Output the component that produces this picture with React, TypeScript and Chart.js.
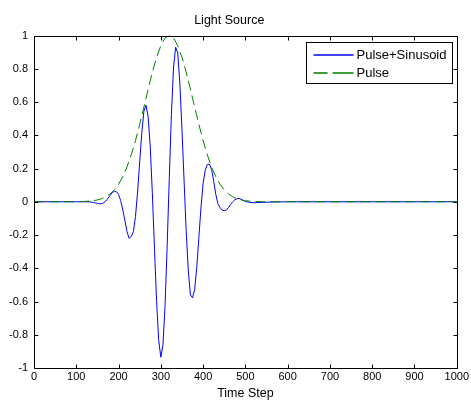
import React, { useEffect, useRef } from "react";
import { Chart, registerables } from "chart.js";

Chart.register(...registerables);

const chartTitle = "Light Source";
const xAxisTitle = "Time Step";
const seriesNames = ["Pulse+Sinusoid", "Pulse"];

const xTicks = [0, 100, 200, 300, 400, 500, 600, 700, 800, 900, 1000];
const yTicks = [-1, -0.8, -0.6, -0.4, -0.2, 0, 0.2, 0.4, 0.6, 0.8, 1];

// Pulse+Sinusoid (blue, solid)
const sinSteps = [
  0, 50, 100, 130, 135, 140, 145, 150, 155, 160, 165, 170, 175, 180, 185, 190, 195,
  200, 205, 210, 215, 220, 225, 230, 235, 240, 245, 250, 255, 260, 265, 270, 275,
  280, 285, 290, 295, 300, 305, 310, 315, 320, 325, 330, 335, 340, 345, 350, 355,
  360, 365, 370, 375, 380, 385, 390, 395, 400, 405, 410, 415, 420, 425, 430, 435,
  440, 445, 450, 455, 460, 465, 470, 475, 480, 485, 490, 495, 500, 510, 520, 540,
  560, 600, 700, 800, 900, 1000,
];
const sinValues = [
  0, 0, 0, 0, -0.002, -0.004, -0.007, -0.01, -0.012, -0.011, -0.006, 0.004, 0.02, 0.038, 0.055, 0.062, 0.06,
  0.044, 0.007, -0.048, -0.113, -0.18, -0.22, -0.21, -0.18, -0.09, 0.058, 0.24, 0.415, 0.545, 0.58, 0.51, 0.33,
  0.048, -0.285, -0.6, -0.835, -0.935, -0.86, -0.625, -0.265, 0.145, 0.525, 0.805, 0.93, 0.895, 0.712, 0.438, 0.125,
  -0.177, -0.417, -0.56, -0.578, -0.528, -0.395, -0.214, -0.033, 0.11, 0.19, 0.225, 0.226, 0.195, 0.125, 0.045, -0.012,
  -0.035, -0.05, -0.054, -0.05, -0.035, -0.015, 0.0, 0.012, 0.018, 0.02, 0.015, 0.008, 0.002, -0.004, -0.006, -0.004,
  -0.002, 0, 0, 0, 0, 0,
];

// Pulse (green, dashed)
const pulseSteps = [
  0, 50, 100, 120, 130, 140, 150, 160, 170, 180, 190, 200, 210, 220, 230, 240, 250,
  260, 270, 280, 290, 300, 310, 320, 330, 340, 350, 360, 370, 380, 390, 400, 410,
  420, 430, 440, 450, 460, 470, 480, 490, 500, 510, 520, 540, 600, 700, 800, 900, 1000,
];
const pulseValues = [
  0, 0, 0, 0.002, 0.004, 0.006, 0.011, 0.018, 0.03, 0.047, 0.071, 0.105, 0.151, 0.21, 0.282, 0.368, 0.465,
  0.57, 0.677, 0.779, 0.869, 0.939, 0.985, 1, 0.985, 0.939, 0.869, 0.779, 0.677, 0.57, 0.465, 0.368, 0.282,
  0.21, 0.151, 0.105, 0.071, 0.047, 0.03, 0.018, 0.011, 0.006, 0.004, 0.002, 0, 0, 0, 0, 0, 0,
];

const BLUE = "#0000ff";
const GREEN = "#008000";
const FONT = "'Liberation Sans', Arial, Helvetica, sans-serif";
const DASH = [10, 5];

const framePlugin = {
  id: "matlabFrame",
  afterDatasetsDraw(chart: any) {
    const { ctx, chartArea } = chart;
    const { left, right, top, bottom } = chartArea;
    const xs = chart.scales.x;
    const ys = chart.scales.y;
    const L = Math.round(left) + 0.5;
    const R = Math.round(right) + 0.5;
    const T = Math.round(top) + 0.5;
    const B = Math.round(bottom) + 0.5;
    ctx.save();
    ctx.strokeStyle = "#000000";
    ctx.lineWidth = 1;
    ctx.setLineDash([]);
    ctx.beginPath();
    ctx.rect(L, T, R - L, B - T);
    const tl = 4;
    xTicks.forEach((v) => {
      const px = Math.round(xs.getPixelForValue(v)) + 0.5;
      ctx.moveTo(px, B);
      ctx.lineTo(px, B - tl);
      ctx.moveTo(px, T);
      ctx.lineTo(px, T + tl);
    });
    yTicks.forEach((v) => {
      const py = Math.round(ys.getPixelForValue(v)) + 0.5;
      ctx.moveTo(L, py);
      ctx.lineTo(L + tl, py);
      ctx.moveTo(R, py);
      ctx.lineTo(R - tl, py);
    });
    ctx.stroke();
    ctx.restore();

    // legend box
    const bw = 146;
    const bh = 41;
    const bx = Math.round(right - 5 - bw) + 0.5;
    const by = Math.round(top + 6) + 0.5;
    ctx.save();
    ctx.fillStyle = "#ffffff";
    ctx.fillRect(bx, by, bw, bh);
    ctx.lineWidth = 1;
    ctx.strokeStyle = "#000000";
    ctx.strokeRect(bx, by, bw, bh);
    ctx.restore();

    const rowY = [Math.round(by + 12), Math.round(by + 30.5)];

    // row 1: solid blue
    ctx.save();
    ctx.lineWidth = 1.5;
    ctx.strokeStyle = BLUE;
    ctx.setLineDash([]);
    ctx.beginPath();
    ctx.moveTo(bx + 7, rowY[0]);
    ctx.lineTo(bx + 47, rowY[0]);
    ctx.stroke();
    ctx.restore();

    // row 2: dashed green
    ctx.save();
    ctx.lineWidth = 1.5;
    ctx.strokeStyle = GREEN;
    ctx.setLineDash([]);
    ctx.beginPath();
    ctx.moveTo(bx + 7, rowY[1]);
    ctx.lineTo(bx + 21, rowY[1]);
    ctx.moveTo(bx + 26, rowY[1]);
    ctx.lineTo(bx + 47, rowY[1]);
    ctx.stroke();
    ctx.restore();

    ctx.save();
    ctx.font = `13px ${FONT}`;
    ctx.textBaseline = "middle";
    ctx.textAlign = "left";
    ctx.fillStyle = "#000000";
    seriesNames.forEach((name, i) => {
      ctx.fillText(name, bx + 50, rowY[i] + 0.5);
    });
    ctx.restore();
  },
};

export default function App() {
  const ref = useRef<HTMLCanvasElement | null>(null);
  useEffect(() => {
    if (!ref.current) return;
    const chart = new Chart(ref.current, {
      type: "line",
      data: {
        datasets: [
          {
            label: seriesNames[0],
            data: sinSteps.map((x, i) => ({ x, y: sinValues[i] })),
            borderColor: BLUE,
            borderWidth: 1,
            pointRadius: 0,
            tension: 0,
            fill: false,
            order: 1,
          },
          {
            label: seriesNames[1],
            data: pulseSteps.map((x, i) => ({ x, y: pulseValues[i] })),
            borderColor: GREEN,
            borderWidth: 1,
            borderDash: DASH,
            pointRadius: 0,
            tension: 0,
            fill: false,
            order: 0,
          },
        ],
      },
      options: {
        responsive: false,
        animation: false,
        events: [],
        layout: { padding: { left: 0, right: 12.5, top: 0, bottom: 0 } },
        plugins: {
          legend: { display: false },
          tooltip: { enabled: false },
          title: {
            display: true,
            text: chartTitle,
            color: "#000",
            font: { family: FONT, size: 12.5, weight: "normal" },
            padding: { top: 13, bottom: 7.5 },
          },
        },
        scales: {
          x: {
            type: "linear",
            min: 0,
            max: 1000,
            afterBuildTicks: (s: any) => {
              s.ticks = xTicks.map((v) => ({ value: v }));
            },
            ticks: {
              color: "#000",
              font: { family: FONT, size: 11 },
              padding: 2,
              maxRotation: 0,
              autoSkip: false,
              callback: (v: any) => String(v),
            },
            grid: { display: false, drawTicks: false },
            border: { display: false },
            title: {
              display: true,
              text: xAxisTitle,
              color: "#000",
              font: { family: FONT, size: 12.5 },
              padding: { top: 0, bottom: 1.5 },
            },
            afterFit: (s: any) => {
              s.height = 35;
            },
          },
          y: {
            type: "linear",
            min: -1,
            max: 1,
            afterBuildTicks: (s: any) => {
              s.ticks = yTicks.map((v) => ({ value: v }));
            },
            ticks: {
              color: "#000",
              font: { family: FONT, size: 11 },
              padding: 6,
              autoSkip: false,
              callback: (v: any) => String(Number(Number(v).toFixed(1)) || 0),
            },
            grid: { display: false, drawTicks: false },
            border: { display: false },
            afterFit: (s: any) => {
              s.width = 34;
            },
          },
        },
      },
      plugins: [framePlugin],
    });
    return () => chart.destroy();
  }, []);
  return (
    <div
      style={{
        position: "fixed",
        left: 0,
        top: 0,
        width: 471,
        height: 403,
        background: "#fff",
      }}
    >
      <canvas ref={ref} width={471} height={403} style={{ display: "block" }} />
    </div>
  );
}
